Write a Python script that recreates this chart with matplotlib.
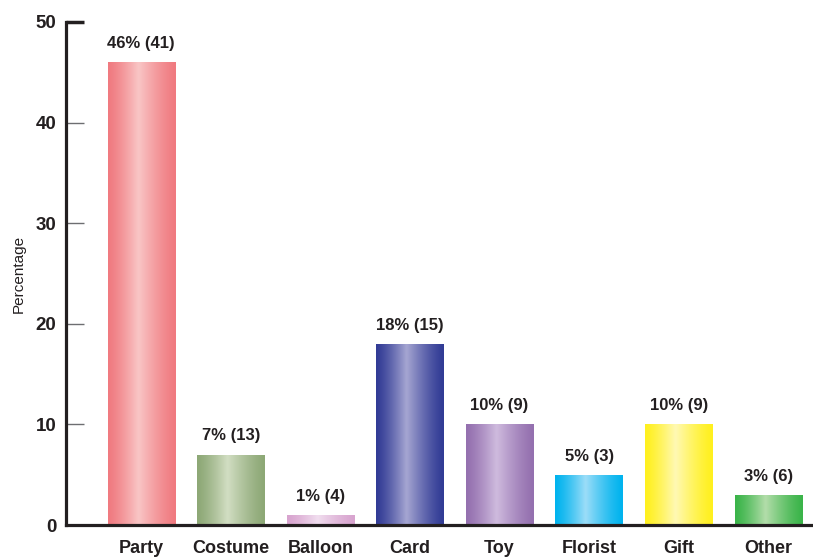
import numpy as np
import matplotlib
matplotlib.use("Agg")
import matplotlib.pyplot as plt
from matplotlib.colors import LinearSegmentedColormap

plt.rcParams['font.family'] = ['Liberation Sans', 'DejaVu Sans']

categories = ['Party', 'Costume', 'Balloon', 'Card', 'Toy', 'Florist', 'Gift', 'Other']
percent = [46, 7, 1, 18, 10, 5, 10, 3]
counts = [41, 13, 4, 15, 9, 3, 9, 6]
# (edge shade, highlight shade) for each bar's cylinder look
shades = [
    ('#F07A80', '#F9C6C6'),
    ('#8DA876', '#D2DEC3'),
    ('#D8A4CF', '#F1DEEF'),
    ('#313B95', '#A6A6D2'),
    ('#9470AF', '#CFBBDE'),
    ('#00B3EE', '#9CDDF8'),
    ('#FFF01E', '#FFF9B4'),
    ('#3AB449', '#B3DDAA'),
]

dark = '#231F20'

fig = plt.figure(figsize=(8.13, 5.57), dpi=100)
ax = fig.add_axes([66 / 813, 32 / 557, 747 / 813, 503 / 557])

x = np.arange(len(categories))
bars = ax.bar(x, percent, width=0.75, color='none', edgecolor='none', zorder=2)

# horizontal gradient: dark edges, light band a bit left of centre
t = np.linspace(0, 1, 200)
prof = np.where(t < 0.45, t / 0.45, (1 - t) / 0.55)
prof = prof ** 1.3
for bar, (edge, light) in zip(bars, shades):
    cmap = LinearSegmentedColormap.from_list('g', [edge, light])
    x0, y0 = bar.get_x(), bar.get_y()
    w, h = bar.get_width(), bar.get_height()
    im = ax.imshow(prof[np.newaxis, :], cmap=cmap, vmin=0, vmax=1,
                   extent=[x0, x0 + w, y0, y0 + h], aspect='auto',
                   interpolation='bicubic', zorder=2)
    im.set_clip_path(bar)

for xi, p, c in zip(x, percent, counts):
    ax.annotate(f'{p}% ({c})', (xi, p), xytext=(0, 8), textcoords='offset points',
                ha='center', va='bottom', fontsize=12, fontweight='bold', color=dark)

ax.set_xlim(-0.84, 7.5)
ax.set_ylim(0, 50)
ax.set_yticks([0, 10, 20, 30, 40, 50])
ax.set_xticks(x)
ax.set_xticklabels(categories, fontsize=13, fontweight='bold', color=dark)
for lab in ax.get_yticklabels():
    lab.set_fontweight('bold')
    lab.set_fontsize(13.5)
    lab.set_color(dark)

ax.tick_params(axis='x', length=0, pad=11)
ax.tick_params(axis='y', direction='in', length=13, width=1, color='#6D6E71', pad=7)
top = ax.yaxis.get_major_ticks()[-1]
top.tick1line.set_markeredgecolor(dark)
top.tick1line.set_markeredgewidth(2.5)

for side in ['top', 'right']:
    ax.spines[side].set_visible(False)
for side in ['left', 'bottom']:
    ax.spines[side].set_linewidth(2.3)
    ax.spines[side].set_color(dark)

ax.set_ylabel('Percentage', fontsize=11, color=dark, labelpad=7)
ax.set_facecolor('white')

fig.savefig('out.png', dpi=100)
